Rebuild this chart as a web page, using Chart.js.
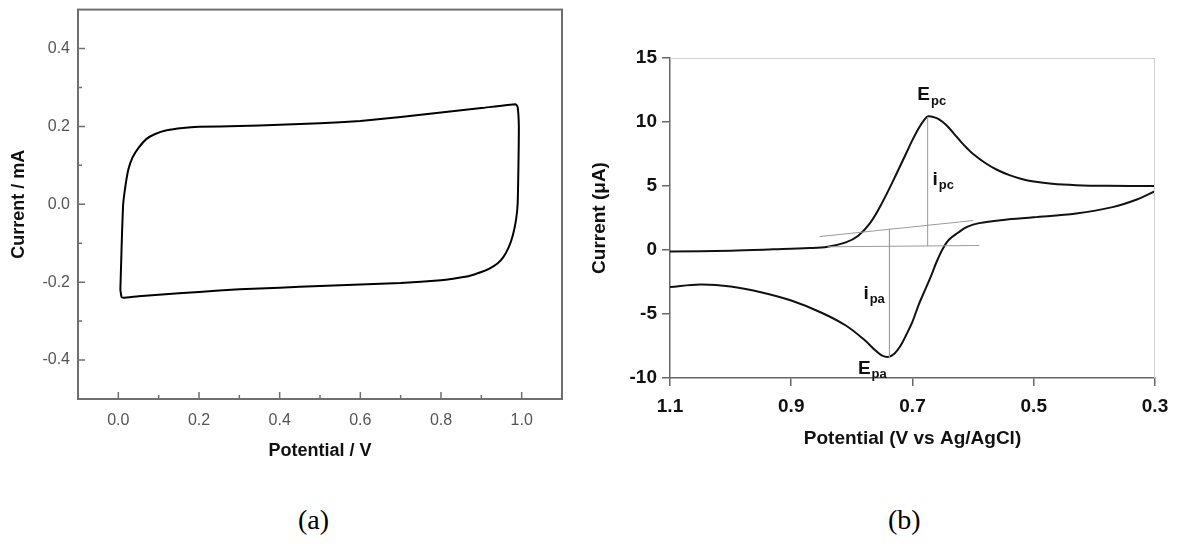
<!DOCTYPE html>
<html>
<head>
<meta charset="utf-8">
<script src="https://cdn.jsdelivr.net/npm/chart.js@4.4.1/dist/chart.umd.min.js"></script>
<style>
  body { margin: 0; background: #fff; width: 1179px; height: 544px; position: relative; overflow: hidden; }
  .box { position: absolute; top: 0; height: 470px; }
  #boxA { left: 0; width: 580px; }
  #boxB { left: 580px; width: 599px; }
  .panel { position: absolute; top: 503px; line-height: 34px; font-family: "Liberation Serif", "Times New Roman", serif; font-size: 28px; color: #000; }
</style>
</head>
<body>
<div class="box" id="boxA"><canvas id="cvA"></canvas></div>
<div class="box" id="boxB"><canvas id="cvB"></canvas></div>
<div class="panel" style="left:298px">(a)</div>
<div class="panel" style="left:888px">(b)</div>
<script>
// (a) capacitive CV loop
const cvPotential = [0.005, 0.007, 0.009, 0.012, 0.018, 0.025, 0.035, 0.05, 0.07, 0.09, 0.12, 0.16, 0.2, 0.3, 0.4, 0.5, 0.6, 0.7, 0.8, 0.9, 0.985,
  0.99, 0.993, 0.992, 0.99, 0.986, 0.978, 0.968, 0.955, 0.94, 0.92, 0.9, 0.87, 0.83, 0.8, 0.7, 0.6, 0.5, 0.4, 0.3, 0.2, 0.1, 0.05, 0.012, 0.008, 0.005];
const cvCurrent = [-0.22, -0.15, -0.08, 0.0, 0.05, 0.09, 0.12, 0.145, 0.168, 0.18, 0.19, 0.196, 0.199, 0.201, 0.204, 0.208, 0.214, 0.224, 0.236, 0.247, 0.257,
  0.25, 0.2, 0.1, 0.0, -0.04, -0.08, -0.11, -0.135, -0.152, -0.165, -0.174, -0.184, -0.191, -0.195, -0.202, -0.206, -0.21, -0.214, -0.218, -0.225, -0.232, -0.236, -0.24, -0.238, -0.22];
const xTicksA = [0.0, 0.2, 0.4, 0.6, 0.8, 1.0];
const yTicksA = [-0.4, -0.2, 0.0, 0.2, 0.4];
const xMinorA = [0.1, 0.3, 0.5, 0.7, 0.9];
const yMinorA = [-0.3, -0.1, 0.1, 0.3];

// (b) reversible redox CV
const cathPotential = [1.1, 1.0, 0.93, 0.87, 0.84, 0.81, 0.79, 0.77, 0.75, 0.73, 0.71, 0.7, 0.69, 0.68, 0.674, 0.66, 0.65, 0.64, 0.63, 0.62, 0.61, 0.6, 0.58, 0.56, 0.54, 0.52, 0.5, 0.47, 0.43, 0.38, 0.3];
const cathCurrent = [-0.12, -0.05, 0.05, 0.15, 0.26, 0.6, 1.1, 2.1, 3.7, 5.6, 7.6, 8.6, 9.5, 10.2, 10.45, 10.3, 10.0, 9.55, 9.0, 8.45, 7.95, 7.5, 6.8, 6.25, 5.85, 5.55, 5.35, 5.17, 5.06, 5.01, 5.0];
const anodPotential = [0.3, 0.33, 0.37, 0.43, 0.5, 0.55, 0.59, 0.61, 0.625, 0.64, 0.65, 0.66, 0.67, 0.68, 0.69, 0.7, 0.71, 0.72, 0.73, 0.74, 0.75, 0.76, 0.78, 0.81, 0.85, 0.9, 0.95, 1.0, 1.05, 1.1];
const anodCurrent = [4.6, 3.95, 3.35, 2.85, 2.55, 2.35, 2.1, 1.8, 1.35, 0.8, 0.1, -0.9, -2.1, -3.2, -4.3, -5.6, -6.6, -7.5, -8.1, -8.35, -8.25, -7.9, -7.0, -5.9, -4.9, -3.95, -3.3, -2.85, -2.7, -2.9];
const xTicksB = [1.1, 0.9, 0.7, 0.5, 0.3];
const yTicksB = [-10, -5, 0, 5, 10, 15];

// construction lines for peak currents
const baseline1 = [[0.84, 0.25], [0.59, 0.35]];
const baseline2 = [[0.853, 1.05], [0.6, 2.3]];
const ipcLine = [[0.675, 0.3], [0.675, 10.4]];
const ipaLine = [[0.738, 1.65], [0.738, -8.4]];
const peakLabels = [
  { main: "E", sub: "pc", x: 0.692, y: 12.1 },
  { main: "i", sub: "pc", x: 0.667, y: 5.5 },
  { main: "i", sub: "pa", x: 0.781, y: -3.4 },
  { main: "E", sub: "pa", x: 0.79, y: -9.25 }
];

Chart.defaults.font.family = 'Arial, "Liberation Sans", sans-serif';
Chart.defaults.animation = false;

function toPoints(xs, ys) {
  return xs.map((x, i) => ({ x: x, y: ys[i] }));
}
function pairPoints(arr) {
  return arr.map(p => ({ x: p[0], y: p[1] }));
}

// frame + inward ticks for chart (a)
const frameTicksA = {
  id: "frameTicksA",
  afterDraw(chart) {
    const { ctx, chartArea: a, scales: { x, y } } = chart;
    ctx.save();
    ctx.strokeStyle = "#6f6f6f";
    ctx.lineWidth = 2;
    ctx.strokeRect(a.left, a.top, a.right - a.left, a.bottom - a.top);
    ctx.lineWidth = 1.5;
    ctx.beginPath();
    xTicksA.forEach(v => { const px = x.getPixelForValue(v); ctx.moveTo(px, a.bottom); ctx.lineTo(px, a.bottom - 7); });
    xMinorA.forEach(v => { const px = x.getPixelForValue(v); ctx.moveTo(px, a.bottom); ctx.lineTo(px, a.bottom - 4); });
    yTicksA.forEach(v => { const py = y.getPixelForValue(v); ctx.moveTo(a.left, py); ctx.lineTo(a.left + 7, py); });
    yMinorA.forEach(v => { const py = y.getPixelForValue(v); ctx.moveTo(a.left, py); ctx.lineTo(a.left + 4, py); });
    ctx.stroke();
    ctx.restore();
  }
};

new Chart(document.getElementById("cvA"), {
  type: "scatter",
  data: {
    datasets: [{
      data: toPoints(cvPotential, cvCurrent),
      showLine: true,
      borderColor: "#000",
      borderWidth: 2,
      pointRadius: 0,
      tension: 0.15
    }]
  },
  options: {
    responsive: true,
    maintainAspectRatio: false,
    layout: { padding: { left: 0, top: 1, right: 18, bottom: 0 } },
    plugins: { legend: { display: false }, tooltip: { enabled: false } },
    scales: {
      x: {
        min: -0.1, max: 1.1,
        afterBuildTicks: s => { s.ticks = xTicksA.map(v => ({ value: v })); },
        afterFit: s => { s.height = 71; },
        grid: { display: false },
        border: { display: false },
        ticks: { color: "#555", font: { size: 16 }, padding: 4, maxRotation: 0, callback: v => v.toFixed(1) },
        title: { display: true, text: "Potential / V", color: "#111", font: { size: 18, weight: "bold" }, padding: { top: 4, bottom: 8 } }
      },
      y: {
        min: -0.5, max: 0.5,
        afterBuildTicks: s => { s.ticks = yTicksA.map(v => ({ value: v })); },
        afterFit: s => { s.width = 78; },
        grid: { display: false },
        border: { display: false },
        ticks: { color: "#555", font: { size: 16 }, padding: 0, callback: v => v.toFixed(1) },
        title: { display: true, text: "Current / mA", color: "#111", font: { size: 18, weight: "bold" }, padding: { top: 8, bottom: 0 } }
      }
    }
  },
  plugins: [frameTicksA]
});

// light top/right frame and peak labels for chart (b)
const frameLabelsB = {
  id: "frameLabelsB",
  afterDraw(chart) {
    const { ctx, chartArea: a, scales: { x, y } } = chart;
    ctx.save();
    ctx.strokeStyle = "#d0d0d0";
    ctx.lineWidth = 1;
    ctx.beginPath();
    ctx.moveTo(a.left, a.top + 0.5); ctx.lineTo(a.right, a.top + 0.5);
    ctx.moveTo(a.right - 0.5, a.top); ctx.lineTo(a.right - 0.5, a.bottom);
    ctx.stroke();
    ctx.fillStyle = "#111";
    ctx.textBaseline = "middle";
    ctx.textAlign = "left";
    peakLabels.forEach(l => {
      const px = x.getPixelForValue(l.x);
      const py = y.getPixelForValue(l.y);
      ctx.font = 'bold 19px Arial, "Liberation Sans", sans-serif';
      ctx.fillText(l.main, px, py);
      const w = ctx.measureText(l.main).width;
      ctx.font = 'bold 13px Arial, "Liberation Sans", sans-serif';
      ctx.fillText(l.sub, px + w + 1, py + 6);
    });
    ctx.restore();
  }
};

const guideStyle = { showLine: true, borderColor: "#9a9a9a", borderWidth: 1, pointRadius: 0, tension: 0 };

new Chart(document.getElementById("cvB"), {
  type: "scatter",
  data: {
    datasets: [
      Object.assign({ data: pairPoints(baseline1) }, guideStyle),
      Object.assign({ data: pairPoints(baseline2) }, guideStyle),
      Object.assign({ data: pairPoints(ipcLine) }, guideStyle),
      Object.assign({ data: pairPoints(ipaLine) }, guideStyle),
      { data: toPoints(cathPotential, cathCurrent), showLine: true, borderColor: "#111", borderWidth: 2, pointRadius: 0, tension: 0.35 },
      { data: toPoints(anodPotential, anodCurrent), showLine: true, borderColor: "#111", borderWidth: 2, pointRadius: 0, tension: 0.35 }
    ]
  },
  options: {
    responsive: true,
    maintainAspectRatio: false,
    layout: { padding: { left: 0, top: 58, right: 24, bottom: 0 } },
    plugins: { legend: { display: false }, tooltip: { enabled: false } },
    scales: {
      x: {
        reverse: true,
        min: 0.3, max: 1.1,
        afterBuildTicks: s => { s.ticks = xTicksB.map(v => ({ value: v })); },
        afterFit: s => { s.height = 92; },
        grid: { drawOnChartArea: false, tickLength: 8, color: "#666", lineWidth: 1.5 },
        border: { color: "#666", width: 1.5 },
        ticks: { color: "#111", font: { size: 19, weight: "bold" }, padding: 9, maxRotation: 0, callback: v => v.toFixed(1) },
        title: { display: true, text: "Potential (V vs Ag/AgCl)", color: "#111", font: { size: 19, weight: "bold" }, padding: { top: 4, bottom: 20 } }
      },
      y: {
        min: -10, max: 15,
        afterBuildTicks: s => { s.ticks = yTicksB.map(v => ({ value: v })); },
        afterFit: s => { s.width = 90; },
        grid: { drawOnChartArea: false, tickLength: 8, color: "#666", lineWidth: 1.5 },
        border: { color: "#666", width: 1.5 },
        ticks: { color: "#111", font: { size: 19, weight: "bold" }, padding: 5 },
        title: { display: true, text: "Current (μA)", color: "#111", font: { size: 19, weight: "bold" }, padding: { top: 8, bottom: 0 } }
      }
    }
  },
  plugins: [frameLabelsB]
});
</script>
</body>
</html>
